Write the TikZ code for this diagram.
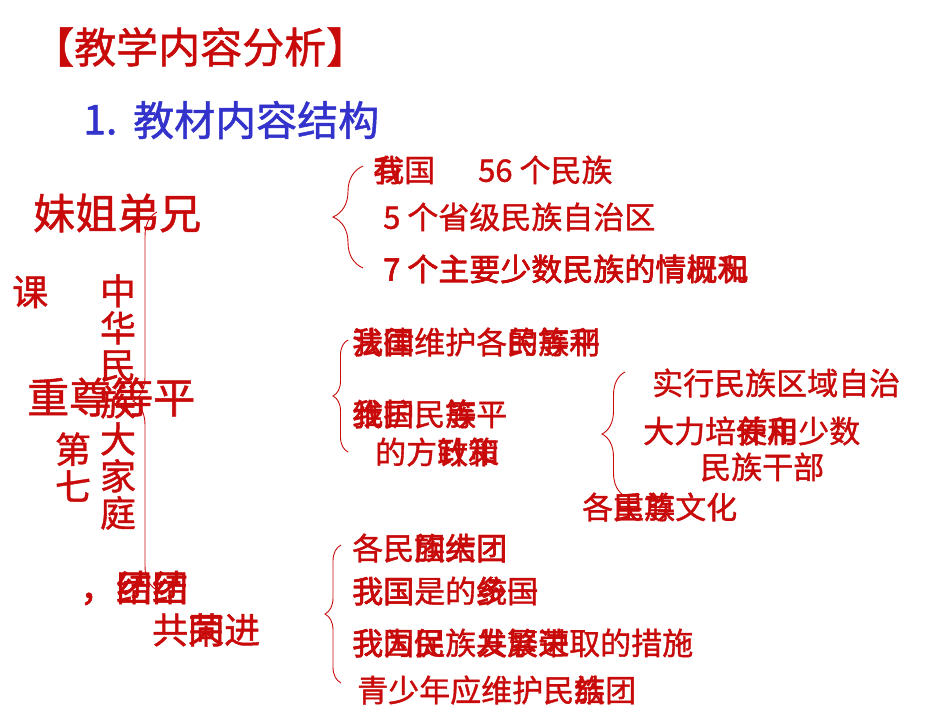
\documentclass[tikz,border=0pt]{standalone}
\usepackage{fontspec}
\newfontfamily\cjk[FakeBold=1.2]{Noto Sans CJK SC}
\usetikzlibrary{decorations.pathreplacing}
\definecolor{hong}{RGB}{200,10,10}
\definecolor{lan}{RGB}{51,51,204}

\begin{document}
\begin{tikzpicture}[x=1pt, y=-1pt,
    zi/.style={text=hong, inner sep=0pt, anchor=west, font=\cjk\fontsize{31}{31}\selectfont},
    dazi/.style={zi, font=\cjk\fontsize{42}{42}\selectfont},
    zhongzi/.style={zi, font=\cjk\fontsize{36}{37}\selectfont},
    kuohao/.style={draw=hong, line width=0.9pt, decorate, decoration={brace, amplitude=#1}}]
    \useasboundingbox (0, 0) rectangle (950, 713);

    % 标题
    \node[zi, font=\cjk\fontsize{42}{42}\selectfont] (biaoti) at (32, 47) {【教学内容分析】};
    \node[zi, text=lan, font=\cjk\fontsize{41}{41}\selectfont] (xuhao) at (83, 120) {1.};
    \node[zi, text=lan, font=\cjk\fontsize{41}{41}\selectfont] (jiegou) at (133, 120) {教材内容结构};

    % 左边
    \node[dazi] (xiongdi) at (33, 213) {妹姐弟兄};
    \node[zhongzi] (ke) at (12, 292) {课};
    \node[zhongzi, anchor=center, align=center] (jiating) at (118, 402) {中\\华\\民\\族\\大\\家\\庭};
    \node[zhongzi, anchor=center, align=center] (diqi) at (73, 467) {第\\七};
    \node[dazi] (pingdeng) at (27, 397) {重尊等平};
    \node[zhongzi] (tuanjie) at (80, 588) {，结团};
    \node[zhongzi] (tuanjie2) at (80, 588) {，团结};
    \node[zhongzi] (gongtong) at (152, 630) {共同进};
    \node[zhongzi] (gongtong2) at (152, 630) {　荣};

    % 第一组
    \node[zi] (woguo) at (373, 170) {我国};
    \node[zi] (woguo2) at (373, 170) {有};
    \node[zi] (minzu) at (478, 170) {56 个民族};
    \node[zi] (zizhiqu) at (383, 217) {5 个省级民族自治区};
    \node[zi] (qingkuang) at (383, 269) {7 个主要少数民族的情况和};
    \node[zi] (qingkuang2) at (383, 269) {7 个主要少数民族的情概况};

    % 第二组
    \node[zi] (falv) at (352, 342) {法律维护各民族平};
    \node[zi] (falv2) at (352, 342) {我国　　　的等利};
    \node[zi] (weihu) at (352, 414) {维护民族平};
    \node[zi] (weihu2) at (352, 414) {我国　等};
    \node[zi] (fangzhen) at (375, 452) {的方针和};
    \node[zi] (fangzhen2) at (375, 452) {　　政策};
    \node[zi] (zizhi) at (652, 383) {实行民族区域自治};
    \node[zi] (peiyang) at (643, 431) {大力培养和少数};
    \node[zi] (peiyang2) at (643, 431) {　　　使用};
    \node[zi] (ganbu) at (700, 467) {民族干部};
    \node[zi] (wenhua) at (582, 507) {各民族文化};
    \node[zi] (wenhua2) at (582, 507) {　重尊};

    % 第三组
    \node[zi] (datuan) at (352, 548) {各民族大团};
    \node[zi] (datuan2) at (352, 548) {　　团结团};
    \node[zi] (guojia) at (352, 591) {我国是的统一};
    \node[zi] (guojia2) at (352, 591) {我国　　多国};
    \node[zi] (cuoshi) at (352, 643) {我国民族发展进取的措施};
    \node[zi] (cuoshi2) at (352, 643) {我为促　共繁荣};
    \node[zi] (qingshao) at (357, 690) {青少年应维护民族团};
    \node[zi] (qingshao2) at (357, 690) {　　　　　　　结};

    % 括号
    \draw[kuohao=30pt] (363, 268) -- (363, 166);
    \draw[kuohao=24pt] (157, 590) -- (157, 212);
    \draw[kuohao=15pt] (348, 452) -- (348, 340);
    \draw[kuohao=23pt] (625, 496) -- (625, 372);
    \draw[kuohao=16pt] (341, 683) -- (341, 545);
\end{tikzpicture}
\end{document}
